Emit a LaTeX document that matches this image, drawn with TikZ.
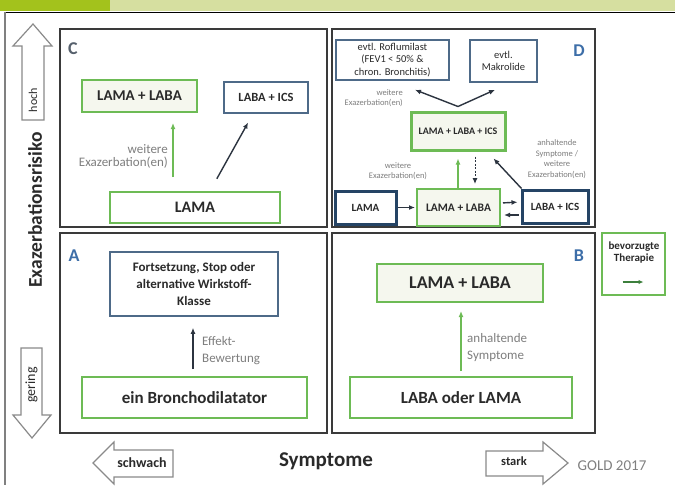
\documentclass[tikz,border=0pt]{standalone}
\usepackage{fontspec}
\setmainfont{Carlito}
\usetikzlibrary{arrows.meta}
\definecolor{bardark}{HTML}{A3C21C}
\definecolor{barlight}{HTML}{D6DFA0}
\definecolor{quadc}{HTML}{3A3A3A}
\definecolor{gbord}{HTML}{6DBB55}
\definecolor{gfill}{HTML}{F5F7EE}
\definecolor{bthin}{HTML}{4E6A88}
\definecolor{bthick}{HTML}{254465}
\definecolor{txt}{HTML}{2A2A2A}
\definecolor{notegray}{HTML}{7E7E7E}
\definecolor{lettblue}{HTML}{3D6EA8}
\definecolor{lettgray}{HTML}{56606C}
\definecolor{arrdark}{HTML}{2C3440}
\definecolor{hollowc}{HTML}{8A8A8A}
\definecolor{legarrow}{HTML}{3C7F3C}
\newcommand{\fsz}[2]{\fontsize{#1}{#2}\selectfont}
\begin{document}
\begin{tikzpicture}[x=1pt,y=-1pt,
  quad/.style={draw=quadc, line width=2pt},
  box/.style={inner sep=1pt, align=center, text=txt},
  wh/.style 2 args={minimum width=#1pt, minimum height=#2pt},
  gbox/.style={box, draw=gbord, line width=2pt, fill=gfill},
  gthick/.style={box, draw=gbord, line width=3pt, fill=gfill},
  bbox/.style={box, draw=bthin, line width=1.6pt, fill=white},
  dbbox/.style={box, draw=bthick, line width=3pt, fill=white},
  notetext/.style={text=notegray, align=center, inner sep=0pt},
  letter/.style={font=\fsz{18}{18}\bfseries, inner sep=0pt},
  darr/.style={draw=arrdark, line width=1.4pt, -{Latex[length=6pt,width=5pt]}},
  garr/.style={draw=gbord, line width=1.6pt, -{Latex[length=6pt,width=5pt]}},
  hollowarrow/.style={draw=hollowc, line width=1.2pt, fill=white, line join=miter},
  axtext/.style={text=txt, inner sep=0pt}]
\useasboundingbox (0,0) rectangle (675,485);
\fill[white] (0,0) rectangle (675,485);
% top bar and frame lines
\fill[bardark] (0,0) rectangle (110,11);
\fill[barlight] (110,0) rectangle (675,11);
\draw[black, line width=1.5pt] (4,12.5) -- (675,12.5);
\draw[gray, line width=1.3pt] (5,12) -- (5,485);

% ---------- C ----------
\draw[quad] (60,29) rectangle (327,227);
\node[letter, text=lettgray] (lC) at (73,49) {C};
\node[gbox, wh={115}{32}, font=\fsz{15}{17}\bfseries] (cLL) at (139.5,96) {LAMA + LABA};
\node[bbox, wh={84}{31}, font=\fsz{12.5}{14}\bfseries] (cLI) at (266,97.5) {LABA + ICS};
\node[gbox, wh={170}{31}, fill=white, font=\fsz{16}{18}\bfseries] (cL) at (195,207.5) {LAMA};
\node[notetext, anchor=east, align=right, font=\fsz{13}{13}] (cN) at (168,156) {weitere\\Exazerbation(en)};
\draw[garr, shorten <=14pt, shorten >=10pt] ([xshift=-22pt]cL.north) -- ([xshift=33.5pt]cLL.south);
\draw[darr, shorten <=14pt, shorten >=10pt] ([xshift=15pt]cL.north) -- ([xshift=-13pt]cLI.south);

% ---------- D ----------
\draw[quad] (332,29) rectangle (595,227);
\node[letter, text=lettblue] (lD) at (579,51) {D};
\node[bbox, wh={113}{40}, font=\fsz{10.5}{12.5}] (dRof) at (392.5,60) {evtl. Roflumilast\\(FEV1 < 50\% \&\\chron. Bronchitis)};
\node[bbox, wh={67}{42}, font=\fsz{10.5}{12.5}] (dMak) at (503.5,61) {evtl.\\Makrolide};
\node[notetext, anchor=east, align=right, font=\fsz{8.5}{10}] (dN1) at (403,98) {weitere\\Exazerbation(en)};
\node[gthick, wh={94}{38}, font=\fsz{10}{12}\bfseries] (dTri) at (458,131) {LAMA + LABA + ICS};
\coordinate (dV) at ([yshift=4pt]dTri.north);
\draw[darr] (dV) -- ([xshift=22.5pt,yshift=-9pt]dRof.south);
\draw[darr] (dV) -- ([xshift=-8.5pt,yshift=-7pt]dMak.south);
\node[dbbox, wh={61}{33}, font=\fsz{11}{13}\bfseries] (dL) at (365.5,207.5) {LAMA};
\node[gbox, wh={83}{37}, font=\fsz{11.5}{13}\bfseries] (dLL) at (458.5,207.5) {LAMA + LABA};
\node[dbbox, wh={66}{33}, font=\fsz{11}{13}\bfseries] (dLI) at (555,206.5) {LABA + ICS};
\node[notetext, font=\fsz{8.5}{10}] (dN2) at (398,171) {weitere\\Exazerbation(en)};
\node[notetext, font=\fsz{8.5}{10.5}] (dN3) at (557,159) {anhaltende\\Symptome /\\weitere\\Exazerbation(en)};
\draw[garr, shorten >=7pt] ([xshift=-0.5pt]dLL.north) -- (dTri.south);
\draw[darr, line width=1pt, dash pattern=on 2pt off 1.5pt, shorten <=5pt, shorten >=4pt] ([xshift=17pt]dTri.south) -- ([xshift=16.5pt]dLL.north);
\draw[darr] ([xshift=1pt]dLI.north west) -- ([xshift=-13pt,yshift=-7pt]dTri.south east);
\draw[darr, shorten >=1pt] (dL.east) -- (dLL.west);
\draw[darr, shorten <=2pt, shorten >=3pt] ([yshift=4.5pt]dLL.east) -- ([yshift=4.5pt]dLI.west);
\draw[darr, shorten <=2pt, shorten >=3pt] ([yshift=-8.5pt]dLI.west) -- ([yshift=-7.5pt]dLL.east);

% ---------- A ----------
\draw[quad] (60,233) rectangle (327,433);
\node[letter, text=lettblue] (lA) at (74,256) {A};
\node[bbox, wh={168}{64}, font=\fsz{13}{17}\bfseries] (aBox) at (194,284) {Fortsetzung, Stop oder\\alternative Wirkstoff-\\Klasse};
\node[gbox, wh={225}{41}, fill=white, font=\fsz{17}{19}\bfseries] (aBr) at (194.5,397.5) {ein Bronchodilatator};
\draw[darr, shorten <=7pt, shorten >=11pt] ([xshift=-1.5pt]aBr.north) -- ([xshift=-1pt]aBox.south);
\node[notetext, anchor=west, align=left, font=\fsz{13}{17}] (aN) at (202,351) {Effekt-\\Bewertung};

% ---------- B ----------
\draw[quad] (332,233) rectangle (595,433);
\node[letter, text=lettblue] (lB) at (579,256) {B};
\node[gbox, wh={166}{38}, font=\fsz{18}{20}\bfseries] (bLL) at (460,283) {LAMA + LABA};
\node[gbox, wh={222}{41}, fill=white, font=\fsz{17}{19}\bfseries] (bLM) at (461,397.5) {LABA oder LAMA};
\draw[garr, shorten <=5pt, shorten >=8pt] (bLM.north) -- ([xshift=1pt]bLL.south);
\node[notetext, anchor=west, align=left, font=\fsz{13}{17}] (bN) at (467,348) {anhaltende\\Symptome};

% ---------- legend ----------
\node[gbox, fill=white, wh={63}{62}] (lg) at (633.5,264) {};
\node[box, inner sep=0pt, font=\fsz{11}{11.5}\bfseries] (lgT) at (634,252.5) {bevorzugte\\Therapie};
\coordinate (lgA) at ([xshift=-11pt,yshift=-18pt]lg.center);
\coordinate (lgB) at ([xshift=10pt,yshift=-18pt]lg.center);
\draw[draw=legarrow, line width=1.3pt, -{Latex[length=5pt,width=4.5pt]}] (lgA) -- (lgB);

% ---------- axes ----------
\draw[hollowarrow] (33,24) -- (52,46) -- (44,46) -- (44,120) -- (22,120) -- (22,46) -- (13,46) -- cycle;
\node[axtext, rotate=90, font=\fsz{12}{12}] (hoch) at (33,100) {hoch};
\draw[hollowarrow] (21,348) -- (42,348) -- (42,415) -- (51,415) -- (32,438) -- (13,415) -- (21,415) -- cycle;
\node[axtext, rotate=90, font=\fsz{14}{14}] (gering) at (31.5,385) {gering};
\node[axtext, rotate=90, font=\fsz{19.5}{20}\bfseries] (yax) at (35,210) {Exazerbationsrisiko};
\draw[hollowarrow] (93,463) -- (114,442) -- (114,450) -- (173,450) -- (173,477) -- (114,477) -- (114,484) -- cycle;
\node[axtext, font=\fsz{14}{14}\bfseries] (schwach) at (142,463) {schwach};
\draw[hollowarrow] (486,451) -- (543,451) -- (543,442) -- (568,463) -- (543,484) -- (543,476) -- (486,476) -- cycle;
\node[axtext, font=\fsz{12.5}{13}\bfseries] (stark) at (514,461) {stark};
\node[axtext, font=\fsz{21}{22}\bfseries] (sym) at (326,461) {Symptome};
\node[axtext, text=gray, font=\fsz{15}{15}] (gold) at (612,466) {GOLD 2017};
\end{tikzpicture}
\end{document}
